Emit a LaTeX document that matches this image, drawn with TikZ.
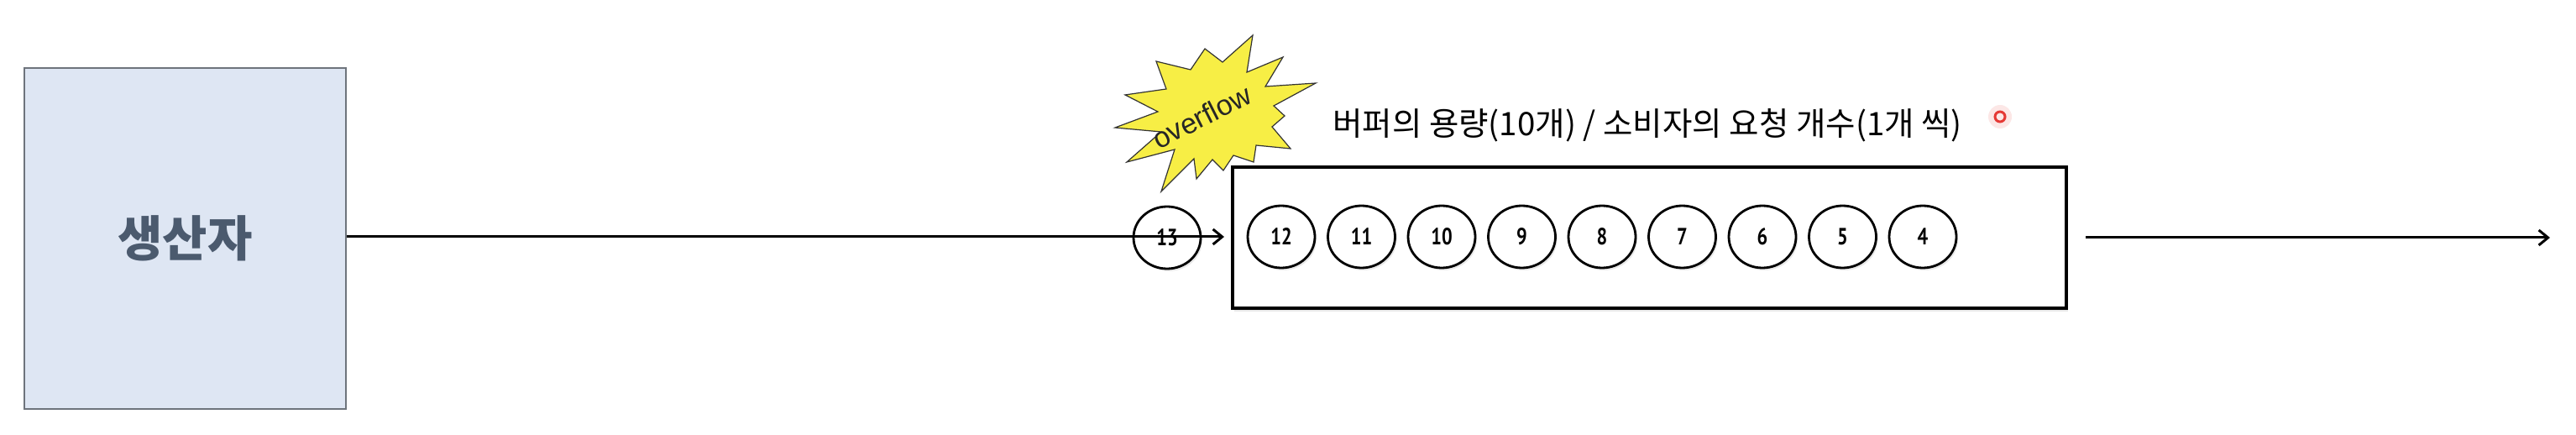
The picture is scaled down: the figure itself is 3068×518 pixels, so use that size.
\documentclass[tikz,border=0pt]{standalone}
\usepackage{fontspec}
\setmainfont{Liberation Sans}
\newfontfamily\kr{Noto Sans CJK KR}
\newfontfamily\numfont[FakeStretch=0.8]{PT Sans}
\usetikzlibrary{shapes.geometric,arrows.meta,shadows,calc}
\definecolor{prodfill}{HTML}{DEE6F3}
\definecolor{prodline}{HTML}{6E747C}
\definecolor{prodtext}{HTML}{4B5A6E}
\definecolor{staryellow}{HTML}{F7EE45}
\definecolor{dotred}{HTML}{E53935}
\tikzset{
  prodbox/.style={draw=prodline, fill=prodfill, line width=2pt, minimum width=383pt, minimum height=406pt, inner sep=0pt,
    font=\kr\bfseries\fontsize{58}{58}\selectfont, text=prodtext},
  bufbox/.style={draw=black, line width=3.5pt, fill=white, minimum width=993pt, minimum height=168pt, inner sep=0pt,
    drop shadow={opacity=0.18, shadow xshift=2pt, shadow yshift=-4pt}},
  item/.style={ellipse, draw=black, fill=white, line width=2.8pt, minimum width=80pt, minimum height=74pt, inner sep=0pt,
    font=\numfont\bfseries\fontsize{28}{28}\selectfont,
    drop shadow={opacity=0.18, shadow xshift=2pt, shadow yshift=-3pt}},
  flow/.style={line width=3pt, -{Straight Barb[length=11pt,width=18pt,line width=3pt]}},
  caption/.style={font=\kr\fontsize{38.5}{38.5}\selectfont, anchor=west, inner sep=0pt},
}
\begin{document}
\begin{tikzpicture}[x=1pt,y=-1pt]
\useasboundingbox (0,0) rectangle (3068,518);
% producer
\node[prodbox] (prod) at (220.5,284) {생산자};
% buffer
\node[bufbox] (buf) at (1964.5,283) {};
\node[caption] (cap) at (1587,149) {버퍼의 용량(10개) / 소비자의 요청 개수(1개 씩)};
% items in buffer
\foreach \n [count=\i from 0] in {12,11,10,9,8,7,6,5,4} {
  \node[item] (c\n) at ({1526+95.5*\i},282) {\n};
}
% overflow item
\node[item] (c13) at (1390,283) {13};
% starburst
\draw[fill=staryellow, draw=black!80, line width=1.2pt, line join=miter]
  (1492,42) -- (1485,86) -- (1528,68) -- (1507,103) -- (1567,99) -- (1517,126) --
  (1530,138) -- (1515,151) -- (1537,177) -- (1496,173) -- (1493,193) -- (1469,185) --
  (1457,203) -- (1444,190) -- (1425,213) -- (1422,189) -- (1383,228) -- (1399,178) --
  (1342,193) -- (1383,157) -- (1328,152) -- (1379,133) -- (1340,113) -- (1389,106) --
  (1377,73) -- (1418,83) -- (1435,58) -- (1456,74) -- cycle;
\node[rotate=27, font=\fontsize{34}{34}\selectfont, text=black!85, inner sep=0pt] (ovf) at (1431,139) {overflow};
% connectors
\coordinate (intip) at (1458,282);
\draw[flow] (prod.east |- intip) -- (intip);
\coordinate (outstart) at (2484,283);
\coordinate (outtip) at (3037,283);
\draw[flow] (outstart) -- (outtip);
% pointer dot
\fill[dotred, opacity=0.12] (2382,139) circle (14pt);
\draw[dotred, line width=3pt] (2382,139) circle (6pt);
\end{tikzpicture}
\end{document}
